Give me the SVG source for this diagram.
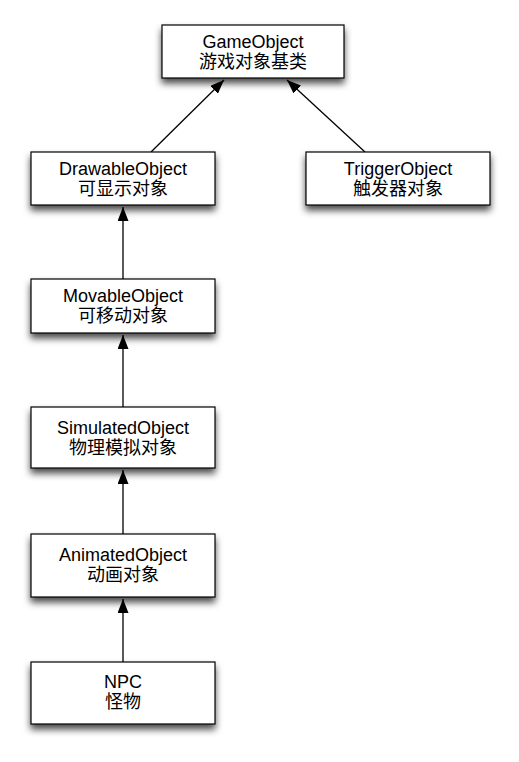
<svg xmlns="http://www.w3.org/2000/svg" width="519" height="762" viewBox="0 0 519 762">
<style>
.box{fill:#fff;stroke:#000;stroke-width:1.2;filter:url(#sh)}
text{font-family:"Liberation Sans","Noto Sans CJK SC",sans-serif;font-size:18px;fill:#000;text-anchor:middle}
.edge{stroke:#000;stroke-width:1.3;fill:none;marker-end:url(#arr)}
</style>
<defs>
<filter id="sh" x="-20%" y="-30%" width="140%" height="180%">
<feDropShadow dx="0" dy="5" stdDeviation="3.5" flood-color="#000" flood-opacity="0.7"/>
</filter>
<marker id="arr" viewBox="0 0 14 11" refX="14" refY="5.5" markerWidth="14" markerHeight="11" markerUnits="userSpaceOnUse" orient="auto">
<path d="M0,0 L14,5.5 L0,11 Z" fill="#000"/>
</marker>
</defs>
<g id="connectors">
<line class="edge" x1="151" y1="152" x2="224" y2="80"/>
<line class="edge" x1="365" y1="152" x2="287" y2="80"/>
<line class="edge" x1="123" y1="279" x2="123" y2="207"/>
<line class="edge" x1="123" y1="407" x2="123" y2="335"/>
<line class="edge" x1="123" y1="534" x2="123" y2="470"/>
<line class="edge" x1="123" y1="662" x2="123" y2="599"/>
</g>
<g id="GameObject">
<rect class="box" x="162" y="25" width="182" height="53"/>
<text x="253" y="48">GameObject</text>
<text x="253" y="68">游戏对象基类</text>
</g>
<g id="DrawableObject">
<rect class="box" x="31" y="152" width="184" height="53"/>
<text x="123" y="175">DrawableObject</text>
<text x="123" y="195">可显示对象</text>
</g>
<g id="TriggerObject">
<rect class="box" x="306" y="152" width="184" height="53"/>
<text x="398" y="175">TriggerObject</text>
<text x="398" y="195">触发器对象</text>
</g>
<g id="MovableObject">
<rect class="box" x="31" y="279" width="184" height="54"/>
<text x="123" y="302">MovableObject</text>
<text x="123" y="322">可移动对象</text>
</g>
<g id="SimulatedObject">
<rect class="box" x="31" y="407" width="184" height="61"/>
<text x="123" y="434">SimulatedObject</text>
<text x="123" y="454">物理模拟对象</text>
</g>
<g id="AnimatedObject">
<rect class="box" x="31" y="534" width="184" height="63"/>
<text x="123" y="561">AnimatedObject</text>
<text x="123" y="581">动画对象</text>
</g>
<g id="NPC">
<rect class="box" x="31" y="662" width="184" height="62"/>
<text x="123" y="688">NPC</text>
<text x="123" y="708">怪物</text>
</g>
</svg>
